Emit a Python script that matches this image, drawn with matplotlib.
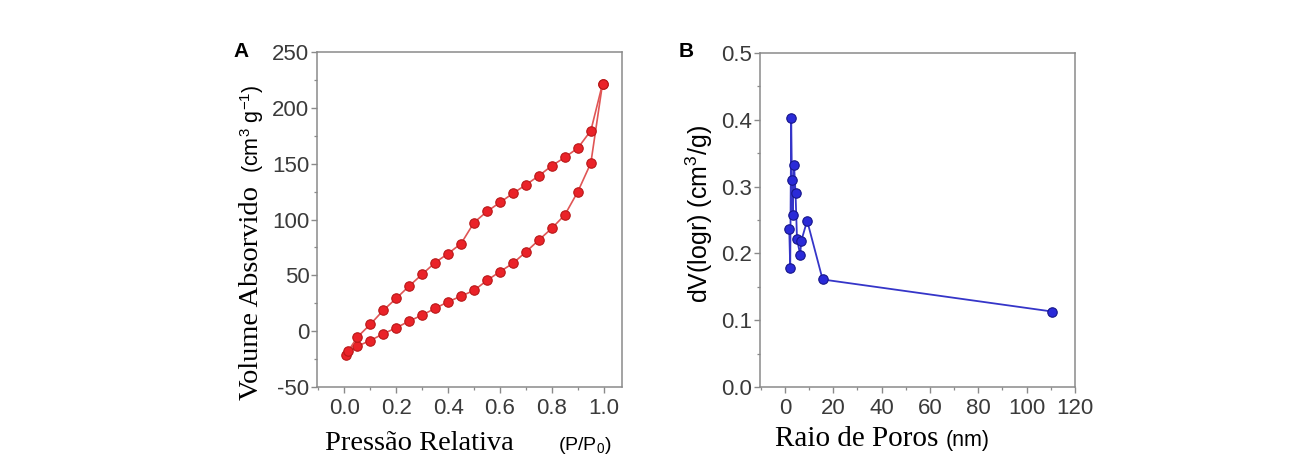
import matplotlib

matplotlib.use("Agg")
import matplotlib.pyplot as plt
from matplotlib.ticker import AutoMinorLocator, MultipleLocator

# Panel A: N2 isotherm (adsorption / desorption branches)
p_rel_ads = [0.005, 0.05, 0.10, 0.15, 0.20, 0.25, 0.30, 0.35, 0.40, 0.45, 0.50,
             0.55, 0.60, 0.65, 0.70, 0.75, 0.80, 0.85, 0.90, 0.95, 0.995]
vol_ads = [-21, -13.5, -8.4, -2.4, 3, 9, 14.4, 20.4, 26.3, 31.4, 36.5,
           45.5, 53.3, 60.8, 71, 81.7, 92.2, 104.2, 125, 150.6, 221.6]
p_rel_des = [0.995, 0.95, 0.90, 0.85, 0.80, 0.75, 0.70, 0.65, 0.60, 0.55, 0.50,
             0.45, 0.40, 0.35, 0.30, 0.25, 0.20, 0.15, 0.10, 0.05, 0.015]
vol_des = [221.6, 179.6, 164, 155.7, 148.2, 139.2, 131.1, 123.4, 115.3, 107.2, 97.3,
           78.4, 69.5, 61.4, 50.9, 40.4, 29.3, 18.6, 6, -5.4, -18]

# Panel B: pore size distribution
pore_radius = [1.8, 2.2, 2.6, 2.9, 3.2, 3.8, 4.4, 5.0, 6.3, 6.8, 9.2, 15.6, 110.5]
dv_logr = [0.236, 0.178, 0.402, 0.310, 0.257, 0.332, 0.290, 0.222, 0.198, 0.219, 0.249, 0.161, 0.113]

SERIF = "Liberation Serif"
SANS = "Liberation Sans"
W, H = 1304, 470

plt.rcParams["axes.unicode_minus"] = False
plt.rcParams["mathtext.fontset"] = "custom"
plt.rcParams["mathtext.rm"] = SANS
plt.rcParams["mathtext.it"] = SANS + ":italic"


def style_axis(ax):
    for spine in ax.spines.values():
        spine.set_color("#8a8a8a")
        spine.set_linewidth(1.1)
    ax.tick_params(which="both", direction="out", color="#8a8a8a", top=False, right=False)
    ax.tick_params(which="major", length=4, width=1.0, labelsize=16, labelcolor="#3a3a3a")
    ax.tick_params(which="minor", length=2.5, width=0.9)
    ax.tick_params(axis="x", pad=4)
    ax.tick_params(axis="y", pad=1.5)
    for label in ax.get_xticklabels() + ax.get_yticklabels():
        label.set_family(SANS)
    ax.xaxis.set_minor_locator(AutoMinorLocator(2))
    ax.yaxis.set_minor_locator(AutoMinorLocator(2))


fig = plt.figure(figsize=(W / 100, H / 100), dpi=100)

ax_a = fig.add_axes([317 / W, 1 - 387 / H, 305 / W, 335 / H])
for xs, ys in ((p_rel_ads, vol_ads), (p_rel_des, vol_des)):
    ax_a.plot(xs, ys, color="#e05555", lw=1.2, marker="o", ms=6.8,
              mfc="#ea2228", mec="#b81818", mew=0.8, zorder=3)
ax_a.set_xlim(-0.105, 1.07)
ax_a.set_ylim(-50, 250)
ax_a.xaxis.set_major_locator(MultipleLocator(0.2))
ax_a.yaxis.set_major_locator(MultipleLocator(50))
ax_a.xaxis.set_major_formatter(lambda v, pos: f"{v:.1f}")
style_axis(ax_a)

ax_b = fig.add_axes([760 / W, 1 - 387 / H, 315 / W, 334 / H])
ax_b.plot(pore_radius, dv_logr, color="#3535c8", lw=1.3, marker="o", ms=6.8,
          mfc="#2a2ad8", mec="#16168a", mew=0.8, zorder=3)
ax_b.set_xlim(-10.3, 120)
ax_b.set_ylim(0, 0.5)
ax_b.xaxis.set_major_locator(MultipleLocator(20))
ax_b.yaxis.set_major_locator(MultipleLocator(0.1))
ax_b.yaxis.set_major_formatter(lambda v, pos: f"{v:.1f}")
style_axis(ax_b)

# panel letters
fig.text(241 / W, 1 - 52 / H, "A", family=SANS, weight="bold", size=15, ha="center", va="center")
fig.text(686 / W, 1 - 52 / H, "B", family=SANS, weight="bold", size=15, ha="center", va="center")

# axis labels: serif words followed by sans units, as in the source figure
fig.text(325 / W, 1 - 450 / H, "Pressão Relativa", family=SERIF, size=20.5, ha="left", va="baseline")
fig.text(558 / W, 1 - 450 / H, "(P/P$_0$)", family=SANS, size=14, ha="left", va="baseline")
fig.text(775 / W, 1 - 446 / H, "Raio de Poros", family=SERIF, size=21, ha="left", va="baseline")
fig.text(946 / W, 1 - 446 / H, "(nm)", family=SANS, size=15.5, ha="left", va="baseline")

fig.text(258 / W, 1 - 400 / H, "Volume Absorvido", family=SERIF, size=20.5,
         rotation=90, rotation_mode="anchor", ha="left", va="baseline")
fig.text(259 / W, 1 - 173 / H, "(cm$^3$ g$^{-1}$)", family=SANS, size=15.5,
         rotation=90, rotation_mode="anchor", ha="left", va="baseline")
fig.text(708 / W, 1 - 303 / H, "dV(logr) (cm$^3$/g)", family=SANS, size=18,
         rotation=90, rotation_mode="anchor", ha="left", va="baseline")

fig.savefig("out.png", dpi=100, facecolor="white")
